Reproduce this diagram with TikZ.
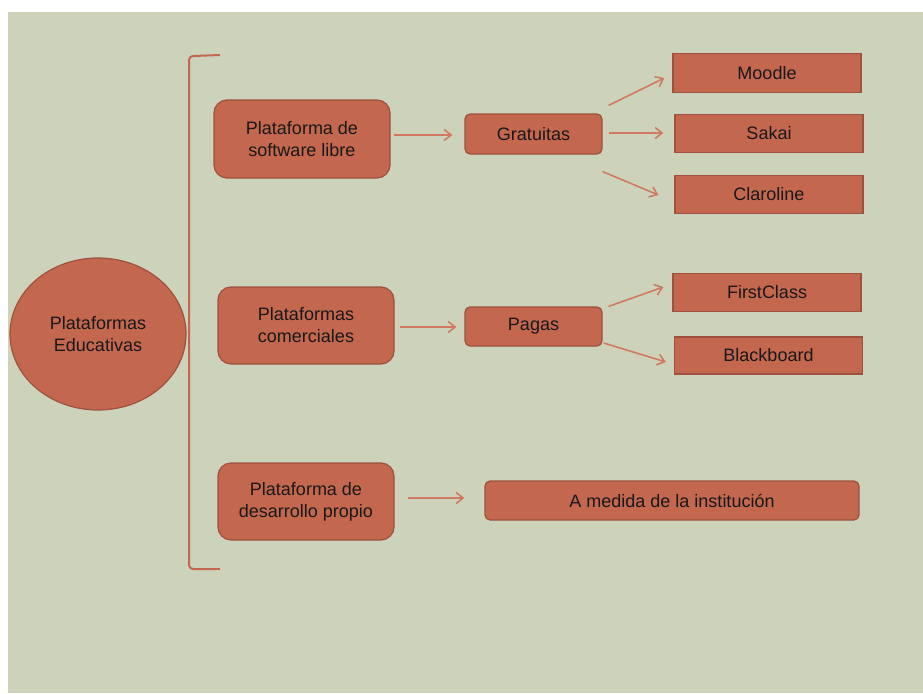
\documentclass[tikz,border=0pt]{standalone}
\usepackage{fontspec}
\setmainfont{Liberation Sans}
\usetikzlibrary{arrows.meta,calc,shapes.geometric}
\definecolor{bg}{HTML}{CDD3BB}
\definecolor{boxfill}{HTML}{C4674F}
\definecolor{boxdraw}{HTML}{9E513E}
\definecolor{arr}{HTML}{D27A61}
\definecolor{txt}{HTML}{181818}
\begin{document}
\begin{tikzpicture}[x=1pt,y=-1pt,
  base/.style={fill=boxfill,draw=boxdraw,line width=1.2pt,text=txt,font=\fontsize{18}{22}\selectfont,align=center,inner sep=0pt},
  bigbox/.style={base,rounded corners=13pt,minimum width=176pt,minimum height=77pt},
  midbox/.style={base,rounded corners=5pt,minimum height=39pt},
  leaf/.style={base,minimum width=188pt,minimum height=38.5pt},
  conn/.style={draw=arr,line width=1.6pt,-{Straight Barb[length=7pt,width=11pt]}}
]
\useasboundingbox (0,0) rectangle (923,693);
\fill[white] (0,0) rectangle (923,693);
\fill[bg] (8,12) rectangle (923,693);

% bracket
\draw[boxfill,line width=2pt] (220,55) -- (194,56) .. controls (190,56) and (189,58) .. (189,62)
  -- (189,563) .. controls (189,567) and (190,569) .. (194,569) -- (220,569);

\node[ellipse,base,minimum width=176pt,minimum height=152pt] (root) at (98,334) {Plataformas\\Educativas};

\node[bigbox,minimum height=78pt] (b1) at (302,139) {Plataforma de\\software libre};
\node[bigbox] (b2) at (306,325.5) {Plataformas\\comerciales};
\node[bigbox] (b3) at (306,501.5) {Plataforma de\\desarrollo propio};

\node[midbox,minimum width=137pt,minimum height=40pt] (grat) at (533.5,134) {Gratuitas};
\node[midbox,minimum width=137pt] (pagas) at (533.5,326.5) {Pagas};
\node[midbox,minimum width=374pt] (amed) at (672,500.5) {A medida de la institución};

\node[leaf] (moodle) at (767,73) {Moodle};
\node[leaf] (sakai) at (769,133.5) {Sakai};
\node[leaf] (claro) at (769,194.5) {Claroline};
\node[leaf] (first) at (767,292.5) {FirstClass};
\node[leaf,minimum height=37pt] (black) at (768.5,355.5) {Blackboard};

\draw[conn] ($(b1.east)+(3,-4)$) -- ($(grat.west)+(-12,1)$);
\draw[conn] ($(grat.north east)+(6,-8)$) -- ($(moodle.west)+(-8,5)$);
\draw[conn] ($(grat.east)+(6,-1)$) -- ($(sakai.west)+(-11,-0.5)$);
\draw[conn] ($(grat.south east)+(0,17)$) -- ($(claro.west)+(-16,0.5)$);
\draw[conn] ($(b2.east)+(5,1.5)$) -- ($(pagas.west)+(-8,0.5)$);
\draw[conn] ($(pagas.north east)+(6,0)$) -- ($(first.west)+(-9,-5.5)$);
\draw[conn] ($(pagas.east)+(1,16.5)$) -- ($(black.west)+(-8,6.5)$);
\draw[conn] ($(b3.east)+(13,-3.5)$) -- ($(amed.west)+(-20,-2.5)$);
\end{tikzpicture}
\end{document}
